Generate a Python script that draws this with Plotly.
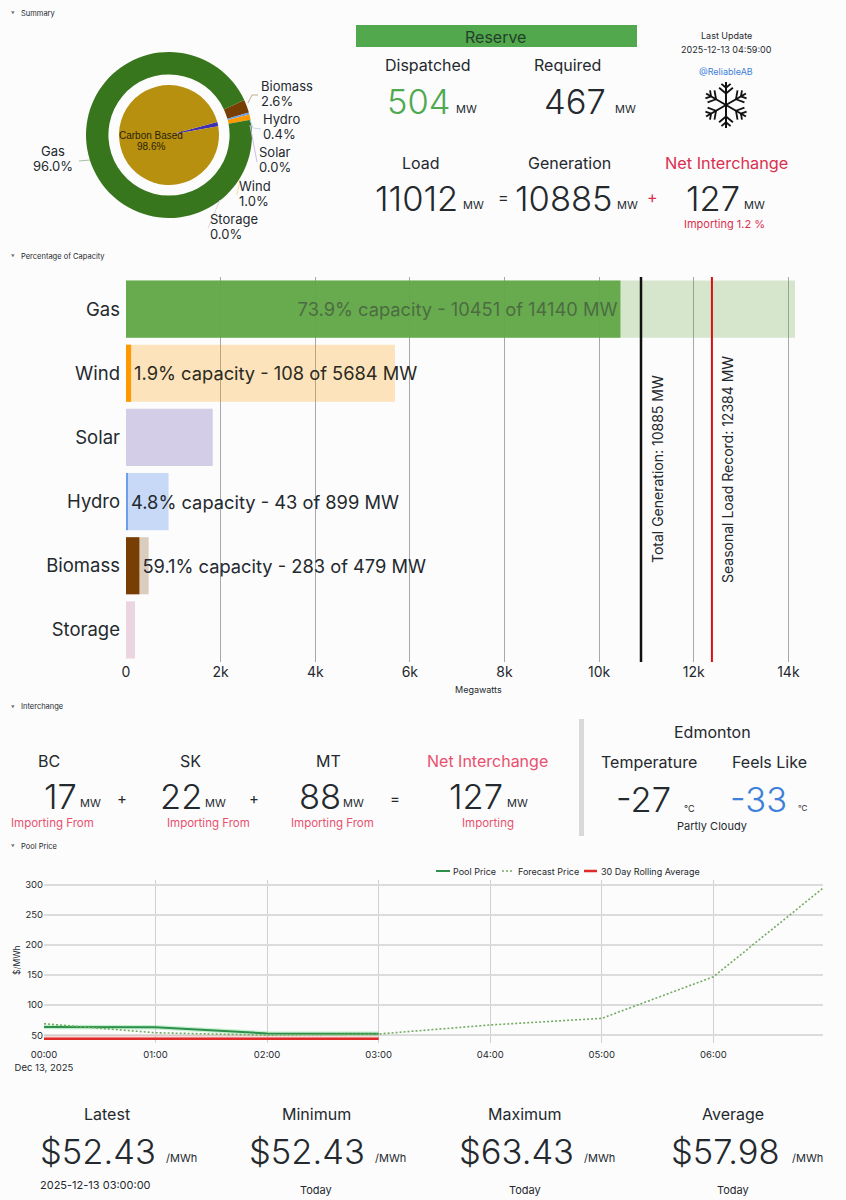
import math

import plotly.graph_objects as go

W = 846
H = 1200

# fuel mix
fuels = ['Gas', 'Wind', 'Solar', 'Hydro', 'Biomass', 'Storage']
generation = [10451, 108, 0, 43, 283, 0]
capacity = [14140, 5684, 1833, 899, 479, 190]
total_generation = 10885
load_record = 12384

# donut goes clockwise from biomass
donut_labels = ['Biomass', 'Hydro', 'Solar', 'Wind', 'Storage', 'Gas']
donut_values = [283, 43, 0, 108, 0, 10451]
donut_colors = ['#783f04', '#6d9eeb', '#8e7cc3', '#ff9900', '#c27ba0', '#38761d']
carbon_labels = ['Non Carbon', 'Carbon Based']
carbon_values = [1.4, 98.6]

# pool price
times = ['2025-12-13 00:00', '2025-12-13 01:00', '2025-12-13 02:00', '2025-12-13 03:00']
forecast_times = times + ['2025-12-13 04:00', '2025-12-13 05:00', '2025-12-13 06:00', '2025-12-13 07:00']
pool_price = [63.43, 63, 53, 52.43]
forecast_price = [69, 54, 50, 52, 67, 78, 147, 297]
rolling_avg = [44, 44, 44, 44]
rolling_band = [50, 50, 50, 50]

FONT = 'Inter'
DARK = '#24292e'
GREEN = '#4fa94f'
RED = '#d9304f'
PINK = '#e8506f'
BLUE = '#3d7fd9'
POOL_GREEN = '#2e8f4c'
FORECAST_GREEN = '#73ab62'
AVG_RED = '#e02b2b'
BIG = 34.5


def px_x(x):
    return x / W


def px_y(y):
    return 1 - y / H


annotations = []
shapes = []


def note(x, y, text, size, color=DARK, anchor='center', angle=0, family=FONT, weight=None):
    font = dict(family=family, size=size, color=color)
    if weight:
        font['weight'] = weight
    annotations.append(dict(x=px_x(x), y=px_y(y), xref='paper', yref='paper', text=text,
                            showarrow=False, xanchor=anchor, yanchor='middle', textangle=angle,
                            font=font))


def big(x, y, text, color=DARK):
    note(x, y, text, BIG, color=color, weight=350)


def leader(points, color, width=1, dash='solid'):
    for (x0, y0), (x1, y1) in zip(points, points[1:]):
        shapes.append(dict(type='line', xref='paper', yref='paper',
                           x0=px_x(x0), y0=px_y(y0), x1=px_x(x1), y1=px_y(y1),
                           line=dict(color=color, width=width, dash=dash)))


# snowflake icon, six arms with two pairs of barbs each
def snowflake(cx, cy, arm):
    for k in range(6):
        a = math.radians(60 * k)
        ux, uy = math.sin(a), -math.cos(a)
        leader([(cx, cy), (cx + arm * ux, cy + arm * uy)], '#111111', width=2)
        for frac, barb in [(0.5, 9), (0.75, 6)]:
            bx, by = cx + arm * frac * ux, cy + arm * frac * uy
            for turn in (-50, 50):
                b = a + math.radians(turn)
                leader([(bx, by), (bx + barb * math.sin(b), by - barb * math.cos(b))], '#111111', width=1.8)


fig = go.Figure()

# Summary donut and inner pie
fig.add_trace(go.Pie(labels=donut_labels, values=donut_values, sort=False, direction='clockwise',
                     rotation=65, hole=0.73, textinfo='none', showlegend=False,
                     marker=dict(colors=donut_colors, line=dict(width=0)),
                     domain=dict(x=[px_x(86), px_x(252)], y=[px_y(218), px_y(52)])))
fig.add_trace(go.Pie(labels=carbon_labels, values=carbon_values, sort=False, direction='clockwise',
                     rotation=75, textinfo='none', showlegend=False,
                     marker=dict(colors=['#3d2fb5', '#b8900f'], line=dict(width=0)),
                     domain=dict(x=[px_x(119), px_x(219)], y=[px_y(185), px_y(85)])))

# Capacity bars, see-through so the grid shows
bar_text = [f'{100 * g / c:.1f}% capacity - {g} of {c} MW' if g > 0 else '' for g, c in zip(generation, capacity)]
fig.add_trace(go.Bar(y=fuels, x=capacity, orientation='h', width=0.89, showlegend=False,
                     marker=dict(color=['rgba(90,165,60,0.24)', 'rgba(255,153,0,0.26)', 'rgba(142,124,195,0.37)',
                                        'rgba(109,158,235,0.37)', 'rgba(120,63,4,0.25)', 'rgba(194,123,160,0.3)'],
                                 line=dict(width=0)),
                     xaxis='x', yaxis='y'))
fig.add_trace(go.Bar(y=fuels, x=generation, orientation='h', width=0.89, showlegend=False,
                     marker=dict(color=['rgba(98,168,72,0.95)', '#ff9900', '#8e7cc3', '#6d9eeb', '#783f04', '#c27ba0'],
                                 line=dict(width=0)),
                     text=bar_text, textposition=['inside', 'outside', 'outside', 'outside', 'outside', 'outside'],
                     insidetextanchor='end', textangle=0, constraintext='none', cliponaxis=False,
                     textfont=dict(family=FONT, size=18.3, color=['#4d6b42', '#2a2a20', DARK, DARK, DARK, DARK]),
                     xaxis='x', yaxis='y'))
fig.add_trace(go.Scatter(x=[total_generation, total_generation], y=[0, 1], mode='lines', showlegend=False,
                         line=dict(color='#111111', width=2.5), xaxis='x', yaxis='y3'))
fig.add_trace(go.Scatter(x=[load_record, load_record], y=[0, 1], mode='lines', showlegend=False,
                         line=dict(color='#d9100f', width=2), xaxis='x', yaxis='y3'))

# Pool price
fig.add_trace(go.Scatter(x=times, y=rolling_avg, mode='lines', showlegend=False,
                         line=dict(color=AVG_RED, width=2.5), xaxis='x2', yaxis='y2'))
fig.add_trace(go.Scatter(x=times, y=rolling_band, mode='lines', showlegend=False, fill='tonexty',
                         fillcolor='rgba(224,43,43,0.16)', line=dict(width=0), xaxis='x2', yaxis='y2'))
fig.add_trace(go.Scatter(x=times, y=pool_price, mode='lines', showlegend=False,
                         line=dict(color='rgba(90,220,120,0.35)', width=4.5), xaxis='x2', yaxis='y2'))
fig.add_trace(go.Scatter(x=times, y=pool_price, mode='lines', name='Pool Price', showlegend=False,
                         line=dict(color=POOL_GREEN, width=2), xaxis='x2', yaxis='y2'))
fig.add_trace(go.Scatter(x=forecast_times, y=forecast_price, mode='lines', name='Forecast Price', showlegend=False,
                         line=dict(color=FORECAST_GREEN, width=1.6, dash='2px,2px'), xaxis='x2', yaxis='y2'))

# Section headers
for y, title in [(13, 'Summary'), (256, 'Percentage of Capacity'), (707, 'Interchange'), (846, 'Pool Price')]:
    note(13, y, '˅', 8, anchor='center')
    note(19, y, title, 7.5, anchor='left')

# Donut labels
note(151, 136, 'Carbon Based', 10, color='#2a2206', family='Liberation Sans')
note(151, 146, '98.6%', 10, color='#2a2206', family='Liberation Sans')
for x, y, name, pct in [(259, 86, 'Biomass', '2.6%'), (261, 119, 'Hydro', '0.4%'), (257, 152, 'Solar', '0.0%'),
                        (237, 186, 'Wind', '1.0%'), (208, 219, 'Storage', '0.0%')]:
    note(x, y, name, 13, anchor='left')
    note(x, y + 15, pct, 13, anchor='left')
note(53, 151, 'Gas', 13)
note(53, 166, '96.0%', 13)
leader([(248, 103), (252, 95), (258, 95)], '#c9a98a')
leader([(250, 120), (253, 128), (261, 129)], '#c6d7f0')
leader([(250, 125), (257, 162)], '#cdbde8')
leader([(240, 180), (237, 195)], '#fbd9a6')
leader([(220, 200), (208, 228)], '#e6d0da')
leader([(90, 160), (79, 161)], '#a8bf9e')

# Reserve block
shapes.append(dict(type='rect', xref='paper', yref='paper', x0=px_x(356), x1=px_x(637), y0=px_y(47), y1=px_y(25),
                   fillcolor='#52a84c', line=dict(width=0), layer='below'))
note(496, 37, 'Reserve', 16, color='#24402b')
note(428, 65, 'Dispatched', 16)
note(567, 65, 'Required', 16)
big(418, 101, '504', color=GREEN)
note(466, 109, 'MW', 11)
big(575, 101, '467')
note(625, 109, 'MW', 11)

note(726, 35, 'Last Update', 9)
note(726, 50, '2025-12-13 04:59:00', 9)
note(726, 71, '@ReliableAB', 9, color=BLUE)
snowflake(726, 105, 23)

note(421, 163, 'Load', 16)
note(569, 163, 'Generation', 16)
note(726, 163, 'Net Interchange', 16.3, color=RED)
big(416, 198, '11012')
note(473, 205, 'MW', 11)
note(503, 197, '=', 16)
big(564, 198, '10885')
note(627, 205, 'MW', 11)
note(652, 197, '+', 16, color=RED)
big(713, 198, '127')
note(754, 205, 'MW', 11)
note(724, 224, 'Importing 1.2 %', 11, color=RED)

# Bar chart labels
note(657, 469, 'Total Generation: 10885 MW', 14, angle=-90)
note(728, 470, 'Seasonal Load Record: 12384 MW', 14, angle=-90)
note(478, 689, 'Megawatts', 9)

# Interchange
for x, name in [(49, 'BC'), (190, 'SK'), (328, 'MT')]:
    note(x, 761, name, 16)
note(487, 761, 'Net Interchange', 16, color=PINK)
for x, mw_x, value in [(60, 90, '17'), (181, 216, '22'), (320, 353, '88'), (476, 517, '127')]:
    big(x, 796, value)
    note(mw_x, 803, 'MW', 11)
note(122, 798, '+', 15)
note(254, 798, '+', 15)
note(395, 798, '=', 15)
for x in [53, 208, 332]:
    note(x, 823, 'Importing From', 11.5, color=PINK)
note(488, 823, 'Importing', 11.5, color=PINK)

shapes.append(dict(type='rect', xref='paper', yref='paper', x0=px_x(579), x1=px_x(584), y0=px_y(836), y1=px_y(719),
                   fillcolor='#d9d9d9', line=dict(width=0), layer='below'))
note(712, 732, 'Edmonton', 16)
note(649, 762, 'Temperature', 16)
note(769, 762, 'Feels Like', 16)
big(643, 799, '-27')
note(689, 808, '°C', 9)
big(758, 799, '-33', color=BLUE)
note(803, 808, '°C', 8)
note(712, 826, 'Partly Cloudy', 11)

# Pool price legend, keys are shorter than plotly's own
leader([(436, 871), (450, 871)], POOL_GREEN, width=2)
note(451, 871, 'Pool Price', 9, anchor='left')
leader([(502, 871), (514, 871)], FORECAST_GREEN, width=1.6, dash='2px,2px')
note(516, 871, 'Forecast Price', 9, anchor='left')
leader([(584, 871), (597, 871)], AVG_RED, width=2.5)
note(599, 871, '30 Day Rolling Average', 9, anchor='left')

# Pool price labels and stats
note(17, 960, '$/MWh', 8.5, angle=-90)
for head_x, val_x, unit_x, head, value in [(107, 98, 181, 'Latest', '$52.43'), (316, 307, 390, 'Minimum', '$52.43'),
                                           (525, 516, 599, 'Maximum', '$63.43'), (733, 725, 807, 'Average', '$57.98')]:
    note(head_x, 1114, head, 16)
    big(val_x, 1151, value)
    note(unit_x, 1158, '/MWh', 11)
note(95, 1185, '2025-12-13 03:00:00', 11)
for x in [316, 525, 733]:
    note(x, 1190, 'Today', 11)

fig.update_layout(
    width=W, height=H, autosize=False,
    margin=dict(l=0, r=0, t=0, b=0, autoexpand=False),
    paper_bgcolor='#fcfcfc', plot_bgcolor='#fcfcfc',
    barmode='overlay',
    font=dict(family=FONT, color=DARK),
    annotations=annotations, shapes=shapes,
    xaxis=dict(domain=[px_x(126), px_x(795)], range=[0, 14140], anchor='y', automargin=False,
               tickvals=[0, 2000, 4000, 6000, 8000, 10000, 12000, 14000],
               ticktext=['0', '2k', '4k', '6k', '8k', '10k', '12k', '14k'],
               tickfont=dict(family=FONT, size=14), showgrid=True, gridcolor='#a8a8a8', zeroline=False,
               showline=False),
    yaxis=dict(domain=[px_y(662), px_y(277)], autorange='reversed', anchor='x', automargin=False,
               tickfont=dict(family=FONT, size=18.5), showgrid=False, zeroline=False, ticklabelstandoff=5),
    yaxis3=dict(domain=[px_y(662), px_y(277)], range=[0, 1], anchor='x', overlaying='y', visible=False),
    xaxis2=dict(domain=[px_x(44), px_x(823)], range=['2025-12-13 00:00', '2025-12-13 06:59'], anchor='y2',
                automargin=False, type='date', dtick=3600000, tickfont=dict(family=FONT, size=9.5),
                ticks='outside', ticklen=3, tickcolor='rgba(0,0,0,0)',
                showgrid=True, gridcolor='#d0d0d0', zeroline=False),
    yaxis2=dict(domain=[px_y(1043), px_y(880)], range=[37, 308], anchor='x2', automargin=False,
                tickvals=[50, 100, 150, 200, 250, 300], tickfont=dict(family=FONT, size=9.5),
                showgrid=True, gridcolor='#dcdcdc', gridwidth=1.5, zeroline=False),
)

fig.write_html('out.html', config={'displayModeBar': False}, post_script="document.body.style.margin='0';")
